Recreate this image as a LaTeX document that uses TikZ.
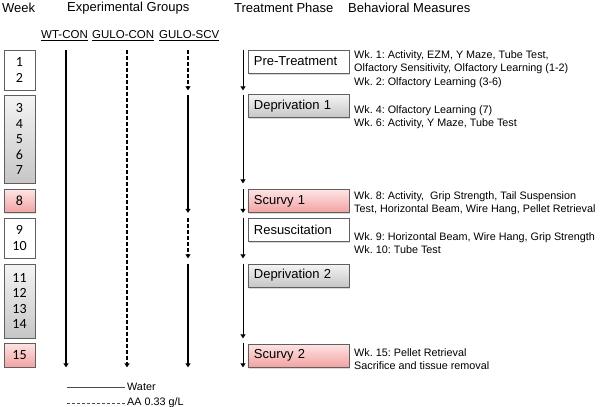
\documentclass[tikz,border=0pt]{standalone}
\usepackage{fontspec}
\setsansfont{Liberation Sans}
\newfontfamily\weekfont{Carlito}
\usetikzlibrary{
  arrows.meta,
  shadows
}
\frenchspacing
\definecolor{boxborder}{RGB}{95,95,95}
\definecolor{greytop}{RGB}{244,244,244}
\definecolor{greybot}{RGB}{198,198,198}
\definecolor{pinktop}{RGB}{253,228,228}
\definecolor{pinkbot}{RGB}{243,162,162}

\begin{document}
\begin{tikzpicture}[
  x=1pt, y=-1pt,
  font=\sffamily,
  >={Triangle[length=4pt,width=5pt]},
  week/.style={
    rectangle,
    draw=boxborder,
    line width=0.8pt,
    fill=white,
    minimum width=31pt,
    inner sep=0pt,
    align=center,
    font=\weekfont\fontsize{14}{15.5}\selectfont,
    drop shadow={opacity=0.25,shadow xshift=1pt,shadow yshift=-1pt}
  },
  phase/.style={
    rectangle,
    draw=boxborder,
    line width=0.8pt,
    fill=white,
    anchor=west,
    text width=89pt,
    align=left,
    inner xsep=6pt,
    inner ysep=0pt,
    minimum height=23pt,
    font=\sffamily\fontsize{13}{15}\selectfont,
    drop shadow={opacity=0.3,shadow xshift=1.5pt,shadow yshift=-1.5pt}
  },
  grey/.style={top color=greytop, bottom color=greybot},
  pink/.style={top color=pinktop, bottom color=pinkbot},
  header/.style={
    anchor=west,
    inner sep=0pt,
    font=\sffamily\fontsize{13}{15}\selectfont
  },
  group/.style={
    anchor=west,
    inner sep=0pt,
    font=\sffamily\fontsize{11.5}{13}\selectfont
  },
  measure/.style={
    anchor=west,
    align=left,
    inner sep=0pt,
    font=\sffamily\fontsize{10.8}{13.5}\selectfont
  },
  legendtext/.style={
    anchor=west,
    inner sep=2pt,
    font=\sffamily\fontsize{10.8}{13}\selectfont
  },
  water/.style={->, line width=1.3pt},
  aa/.style={->, line width=1.3pt, dash pattern=on 4pt off 2pt},
  phaseflow/.style={->, line width=0.9pt},
  legendline/.style={black!70, line width=0.7pt}
]

\useasboundingbox (0,0) rectangle (600,407);

% ------------------------------------------------------------------
% Column headers
% ------------------------------------------------------------------
\node[header] (hweek)   at (2,8)   {Week};
\node[header] (hgroups) at (67,8)  {Experimental Groups};
\node[header] (hphase)  at (234,8) {Treatment Phase};
\node[header] (hmeas)   at (348,8) {Behavioral Measures};

\node[group] (lwt)   at (41,36)  {\underline{WT-CON}};
\node[group] (lcon)  at (92,36)  {\underline{GULO-CON}};
\node[group] (lscv)  at (159,36) {\underline{GULO-SCV}};

% ------------------------------------------------------------------
% Column anchors
% ------------------------------------------------------------------
\coordinate (wtcon)   at (66,0);
\coordinate (gulocon) at (127,0);
\coordinate (guloscv) at (188,0);
\coordinate (phasecol) at (243,0);

% ------------------------------------------------------------------
% Weeks
% ------------------------------------------------------------------
\node[week, minimum height=40pt] (w12) at (19.5,70) {1\\2};
\node[week, grey, minimum height=88pt] (w37) at (19.5,139) {3\\4\\5\\6\\7};
\node[week, pink, minimum height=23pt] (w8) at (19.5,201) {8};
\node[week, minimum height=40pt] (w910) at (19.5,238) {9\\10};
\node[week, grey, minimum height=74pt] (w1114) at (19.5,301) {11\\12\\13\\14};
\node[week, pink, minimum height=24pt] (w15) at (19.5,355) {15};

% ------------------------------------------------------------------
% Treatment phases
% ------------------------------------------------------------------
\node[phase] (pretreat) at (247.5,61.5) {Pre-Treatment};
\node[phase, grey] (depr1) at (247.5,106) {Deprivation 1};
\node[phase, pink] (scurvy1) at (247.5,201) {Scurvy 1};
\node[phase] (resus) at (247.5,229.5) {Resuscitation};
\node[phase, grey] (depr2) at (247.5,275.5) {Deprivation 2};
\node[phase, pink] (scurvy2) at (247.5,355.5) {Scurvy 2};

% ------------------------------------------------------------------
% Behavioral measures
% ------------------------------------------------------------------
\node[measure] (mpre) at (354,69)
  {Wk. 1: Activity, EZM, Y Maze, Tube Test,\\
   Olfactory Sensitivity, Olfactory Learning (1-2)\\
   Wk. 2: Olfactory Learning (3-6)};
\node[measure] (mdepr1) at (354,117)
  {Wk. 4: Olfactory Learning (7)\\
   Wk. 6: Activity, Y Maze, Tube Test};
\node[measure] (mscurvy1) at (354,203)
  {Wk. 8: Activity, \ Grip Strength, Tail Suspension\\
   Test, Horizontal Beam, Wire Hang, Pellet Retrieval};
\node[measure] (mresus) at (354,243)
  {Wk. 9: Horizontal Beam, Wire Hang, Grip Strength\\
   Wk. 10: Tube Test};
\node[measure] (mscurvy2) at (354,359)
  {Wk. 15: Pellet Retrieval\\
   Sacrifice and tissue removal};

% ------------------------------------------------------------------
% Group arrows
% ------------------------------------------------------------------
\draw[water] (wtcon |- w12.north) -- (wtcon |- w15.south);
\draw[aa] (gulocon |- w12.north) -- (gulocon |- w15.south);

\draw[aa] (guloscv |- w12.north) -- (guloscv |- w12.south);
\draw[water] (guloscv |- w37.north) -- (guloscv |- w8.south);
\draw[aa] (guloscv |- w910.north) -- (guloscv |- w910.south);
\draw[water] (guloscv |- w1114.north) -- (guloscv |- w15.south);

% ------------------------------------------------------------------
% Phase arrows
% ------------------------------------------------------------------
\foreach \wk in {w12,w37,w8,w910,w1114,w15}
  \draw[phaseflow] (phasecol |- \wk.north) -- (phasecol |- \wk.south);

% ------------------------------------------------------------------
% Legend
% ------------------------------------------------------------------
\node[legendtext] (water) at (125,387) {Water};
\node[legendtext] (aalabel) at (125,403) {AA 0.33 g/L};
\coordinate (legwater) at (67,387);
\coordinate (legaa) at (67,403);
\draw[legendline] (legwater) -- (water.west);
\draw[legendline, dash pattern=on 3pt off 2pt] (legaa) -- (aalabel.west);

\end{tikzpicture}
\end{document}
